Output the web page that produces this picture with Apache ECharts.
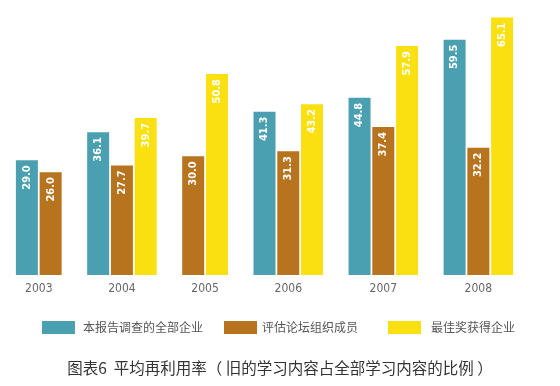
<!DOCTYPE html>
<html>
<head>
<meta charset="utf-8">
<script src="https://cdn.jsdelivr.net/npm/echarts/dist/echarts.min.js"></script>
<style>
html,body{margin:0;padding:0;background:#fff;}
#chart{width:560px;height:386px;}
</style>
</head>
<body>
<div id="chart"></div>
<script>
const years = ['2003', '2004', '2005', '2006', '2007', '2008'];
const allCompanies = [29.0, 36.1, null, 41.3, 44.8, 59.5];
const forumMembers = [26.0, 27.7, 30.0, 31.3, 37.4, 32.2];
const bestAwards = [null, 39.7, 50.8, 43.2, 57.9, 65.1];
const seriesNames = ['本报告调查的全部企业', '评估论坛组织成员', '最佳奖获得企业'];
const chartTitle = '图表6  平均再利用率（ 旧的学习内容占全部学习内容的比例 ）';

const colors = ['#4aa0b0', '#b8731f', '#fbe011'];
const seriesValues = [allCompanies, forumMembers, bestAwards];

// Build packed bar slots (missing bars are omitted, groups separated by a gap slot)
const slots = [];
const slotData = [[], [], []];
const slotLabels = {};
years.forEach((yr, i) => {
  if (i > 0) {
    slots.push('gap' + i);
    slotData.forEach(d => d.push(null));
  }
  const present = [0, 1, 2].filter(k => seriesValues[k][i] !== null);
  const start = slots.length;
  present.forEach(k => {
    slots.push(yr + '-' + k);
    slotData.forEach((d, s) => d.push(s === k ? seriesValues[k][i] : null));
  });
  if (present.length % 2 === 1) {
    slotLabels[start + Math.floor(present.length / 2)] = '{c|' + yr + '}';
  } else {
    slotLabels[start + present.length / 2 - 1] = '{h|' + yr + '}';
  }
});

const gridLeft = 15, gridWidth = 499;
const catW = gridWidth / slots.length;

const chart = echarts.init(document.getElementById('chart'));
const narrow = "'Liberation Sans Narrow', 'DejaVu Sans Condensed', 'Roboto Condensed', 'Roboto', sans-serif";

chart.setOption({
  animation: false,
  backgroundColor: '#ffffff',
  title: {
    text: chartTitle,
    left: 'center',
    top: 355,
    textStyle: { fontSize: 15.5, fontWeight: 'normal', color: '#333', fontFamily: "'Noto Sans CJK SC', sans-serif" }
  },
  legend: seriesNames.map((n, i) => ({
    data: [n],
    left: [37, 219, 383][i],
    top: 316,
    icon: 'rect',
    itemWidth: 33,
    itemHeight: 13,
    selectedMode: false,
    textStyle: { fontSize: 12, color: '#555', fontFamily: "'Noto Sans CJK SC', sans-serif", padding: [0, 0, 0, [3, 0, 5][i]] }
  })),
  grid: { left: gridLeft, width: gridWidth, top: 10, bottom: 111, containLabel: false },
  xAxis: {
    type: 'category',
    data: slots,
    axisLine: { show: false },
    axisTick: { show: false },
    axisLabel: {
      interval: 0,
      margin: 8,
      formatter: (v, idx) => slotLabels[idx] || '',
      rich: {
        c: { fontSize: 12, color: '#666', fontFamily: narrow },
        h: { fontSize: 12, color: '#666', fontFamily: narrow, padding: [0, 0, 0, catW] }
      }
    }
  },
  yAxis: {
    type: 'value',
    min: 0,
    max: 67,
    show: false,
    splitLine: { show: false }
  },
  series: seriesNames.map((n, i) => ({
    name: n,
    type: 'bar',
    data: slotData[i],
    barWidth: 22,
    barGap: '-100%',
    itemStyle: { color: colors[i] },
    label: {
      show: true,
      position: 'insideTop',
      rotate: 90,
      align: 'right',
      verticalAlign: 'middle',
      distance: 5,
      color: '#fff',
      fontSize: 11,
      fontWeight: 'bold',
      fontFamily: narrow,
      formatter: p => (p.value == null ? '' : Number(p.value).toFixed(1))
    }
  }))
});
</script>
</body>
</html>
